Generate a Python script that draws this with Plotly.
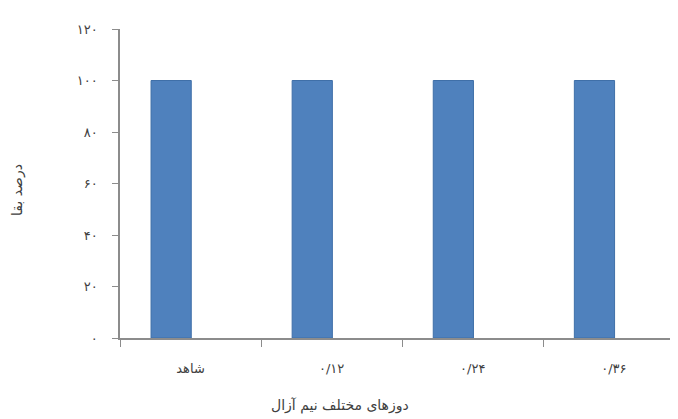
import plotly.graph_objects as go

categories = ["شاهد", "۰/۱۲", "۰/۲۴", "۰/۳۶"]
survival = [100, 100, 100, 100]
y_ticks = [0, 20, 40, 60, 80, 100, 120]
y_ticktext = ["۰", "۲۰", "۴۰", "۶۰", "۸۰", "۱۰۰", "۱۲۰"]
x_title = "دوزهای مختلف نیم آزال"
y_title = "درصد بقا"

FONT = "DejaVu Sans"
TXT = "#404040"
AX = "#8c8c8c"

L, T, B, R = 112, 21, 89, 3
PW = 678 - L - R
PH = 419 - T - B

fig = go.Figure()
fig.add_trace(go.Bar(
    x=categories, y=survival,
    width=0.285, offset=-0.28,
    marker=dict(color="#4f81bd", line=dict(color="#3f6fa8", width=1)),
    hoverinfo="skip",
))

fig.update_layout(
    width=678, height=419,
    margin=dict(l=L, r=R, t=T, b=B),
    paper_bgcolor="white", plot_bgcolor="white",
    showlegend=False,
    font=dict(family=FONT, color=TXT, size=12),
    xaxis=dict(
        type="category", range=[-0.5, 3.49],
        showline=True, linecolor=AX, linewidth=1.5,
        ticks="outside", tickson="boundaries", ticklen=7, tickcolor=AX,
        showgrid=False, zeroline=False,
        tickfont=dict(size=13, color=TXT, family=FONT),
        ticklabelstandoff=18,
    ),
    yaxis=dict(
        range=[0, 120],
        tickvals=y_ticks, ticktext=y_ticktext,
        showline=True, linecolor=AX, linewidth=1.5,
        ticks="outside", ticklen=6, tickcolor=AX,
        showgrid=False, zeroline=False,
        tickfont=dict(size=13, color=TXT, family=FONT),
        ticklabelstandoff=12,
    ),
    annotations=[
        dict(text=x_title, xref="paper", yref="paper", x=(332 - L) / PW, y=-67 / PH,
             showarrow=False, xanchor="center", yanchor="middle",
             font=dict(size=14, color=TXT, family=FONT)),
        dict(text=y_title, xref="paper", yref="paper", x=(9 - L) / PW, y=(330 - 182) / PH,
             showarrow=False, xanchor="center", yanchor="middle", textangle=-90,
             font=dict(size=14, color=TXT, family=FONT)),
    ],
)

fig.write_html("out.html")
